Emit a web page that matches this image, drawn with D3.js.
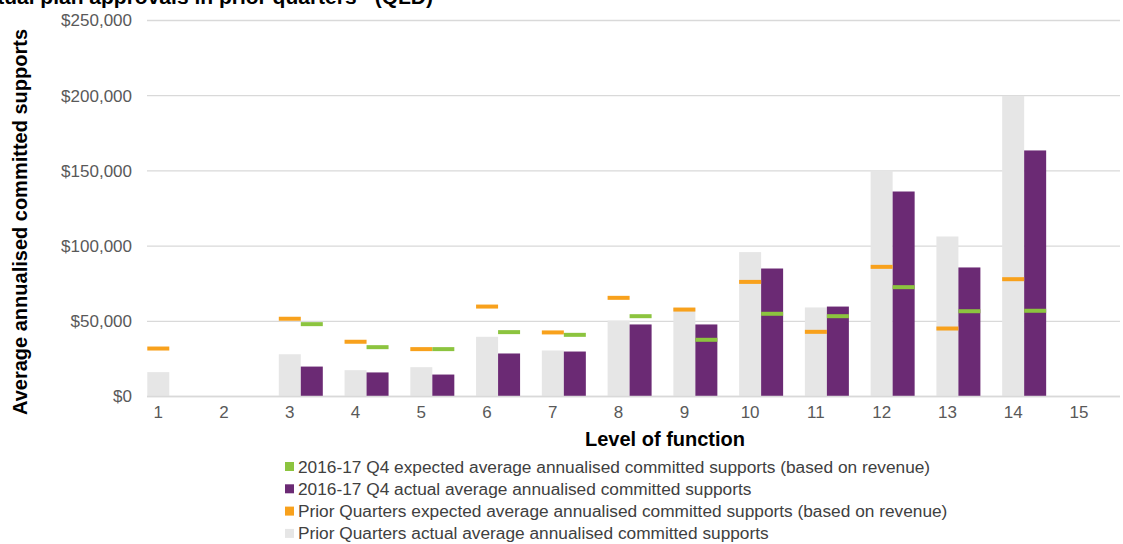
<!DOCTYPE html>
<html>
<head>
<meta charset="utf-8">
<script src="https://cdn.jsdelivr.net/npm/d3@7"></script>
<style>
  body { margin: 0; background: #fff; }
  svg { display: block; font-family: "Liberation Sans", Arial, sans-serif; }
</style>
</head>
<body>
<div id="chart"></div>
<script>
const levels = ["1","2","3","4","5","6","7","8","9","10","11","12","13","14","15"];

// Prior quarters actual (grey bars)
const priorActual = [16200, null, 28100, 17500, 19500, 39700, 30600, 50500, 59000, 96000, 59200, 150300, 106400, 199900, null];
// 2016-17 Q4 actual (purple bars)
const q4Actual = [null, null, 19900, 16000, 14600, 28600, 29900, 47900, 47900, 85100, 59800, 136300, 85800, 163600, null];
// Prior quarters expected (orange markers)
const priorExpected = [31900, null, 51700, 36400, 31500, 59800, 42600, 65600, 57800, 76200, 43000, 86200, 45200, 78000, null];
// 2016-17 Q4 expected (green markers)
const q4Expected = [null, null, 48100, 32800, 31500, 42800, 41000, 53400, 37700, 55000, 53400, 72700, 56700, 57000, null];

const yTicks = [0, 50000, 100000, 150000, 200000, 250000];

const legendItems = [
  ["2016-17 Q4 expected average annualised committed supports (based on revenue)", "#8cc43f"],
  ["2016-17 Q4 actual average annualised committed supports", "#6b2a74"],
  ["Prior Quarters expected average annualised committed supports (based on revenue)", "#f8a11c"],
  ["Prior Quarters actual average annualised committed supports", "#e6e6e6"]
];

const width = 1123, height = 544;
const plotLeft = 147, plotRight = 1120;
const barW = 22;

const svg = d3.select("#chart").append("svg")
  .attr("width", width)
  .attr("height", height);

const x = d3.scaleBand()
  .domain(levels)
  .range([125.4, 125.4 + 65.76 * 15])
  .padding(0);

const y = d3.scaleLinear()
  .domain([0, 250000])
  .range([396.5, 20.5]);

// title (cut off at the top of the picture, as in the source)
svg.append("text")
  .attr("x", 433)
  .attr("y", 4)
  .attr("text-anchor", "end")
  .style("font-size", "21px")
  .style("font-weight", "bold")
  .style("fill", "#000")
  .text("Average annualised committed supports compared to actual plan approvals in prior quarters^ (QLD)");

// gridlines
svg.append("g")
  .selectAll("line")
  .data(yTicks)
  .enter()
  .append("line")
    .attr("x1", plotLeft)
    .attr("x2", plotRight)
    .attr("y1", d => y(d))
    .attr("y2", d => y(d))
    .style("stroke", "#d9d9d9")
    .style("stroke-width", 1.3);

// y tick labels
svg.append("g")
  .selectAll("text")
  .data(yTicks)
  .enter()
  .append("text")
    .attr("x", 132)
    .attr("y", d => y(d))
    .attr("dy", "0.35em")
    .attr("text-anchor", "end")
    .style("font-size", "17px")
    .style("fill", "#595959")
    .text(d => "$" + d3.format(",")(d));

const center = d => x(d) + x.bandwidth() / 2;

// grey bars
svg.append("g")
  .selectAll("rect")
  .data(levels.map((l, i) => [l, priorActual[i]]).filter(d => d[1] != null))
  .enter()
  .append("rect")
    .attr("x", d => center(d[0]) - barW / 2)
    .attr("y", d => y(d[1]))
    .attr("width", barW)
    .attr("height", d => y(0) - y(d[1]))
    .style("fill", "#e6e6e6");

// purple bars
svg.append("g")
  .selectAll("rect")
  .data(levels.map((l, i) => [l, q4Actual[i]]).filter(d => d[1] != null))
  .enter()
  .append("rect")
    .attr("x", d => center(d[0]) + barW / 2)
    .attr("y", d => y(d[1]))
    .attr("width", barW)
    .attr("height", d => y(0) - y(d[1]))
    .style("fill", "#6b2a74");

// orange markers
svg.append("g")
  .selectAll("rect")
  .data(levels.map((l, i) => [l, priorExpected[i]]).filter(d => d[1] != null))
  .enter()
  .append("rect")
    .attr("x", d => center(d[0]) - barW / 2)
    .attr("y", d => y(d[1]) - 2)
    .attr("width", barW)
    .attr("height", 4)
    .style("fill", "#f8a11c");

// green markers
svg.append("g")
  .selectAll("rect")
  .data(levels.map((l, i) => [l, q4Expected[i]]).filter(d => d[1] != null))
  .enter()
  .append("rect")
    .attr("x", d => center(d[0]) + barW / 2)
    .attr("y", d => y(d[1]) - 2)
    .attr("width", barW)
    .attr("height", 4)
    .style("fill", "#8cc43f");

// baseline
svg.append("line")
  .attr("x1", plotLeft).attr("x2", plotRight)
  .attr("y1", y(0)).attr("y2", y(0))
  .style("stroke", "#d9d9d9")
  .style("stroke-width", 1.5);

// x tick labels
svg.append("g")
  .selectAll("text")
  .data(levels)
  .enter()
  .append("text")
    .attr("x", d => center(d))
    .attr("y", 418)
    .attr("text-anchor", "middle")
    .style("font-size", "17px")
    .style("fill", "#595959")
    .text(d => d);

// axis titles
svg.append("text")
  .attr("x", 665)
  .attr("y", 446)
  .attr("text-anchor", "middle")
  .style("font-size", "20px")
  .style("font-weight", "bold")
  .style("fill", "#000")
  .text("Level of function");

svg.append("text")
  .attr("transform", "translate(27,222) rotate(-90)")
  .attr("text-anchor", "middle")
  .style("font-size", "20px")
  .style("font-weight", "bold")
  .style("fill", "#000")
  .text("Average annualised committed supports");

// legend
const legend = svg.append("g")
  .selectAll("g")
  .data(legendItems)
  .enter()
  .append("g")
    .attr("transform", (d, i) => "translate(285," + (466.5 + i * 22.3) + ")");

legend.append("rect")
  .attr("x", 0)
  .attr("y", -4.5)
  .attr("width", 9)
  .attr("height", 9)
  .style("fill", d => d[1]);

legend.append("text")
  .attr("x", 13)
  .attr("y", 0)
  .attr("dy", "0.35em")
  .style("font-size", "17.3px")
  .style("fill", "#404040")
  .text(d => d[0]);
</script>
</body>
</html>
